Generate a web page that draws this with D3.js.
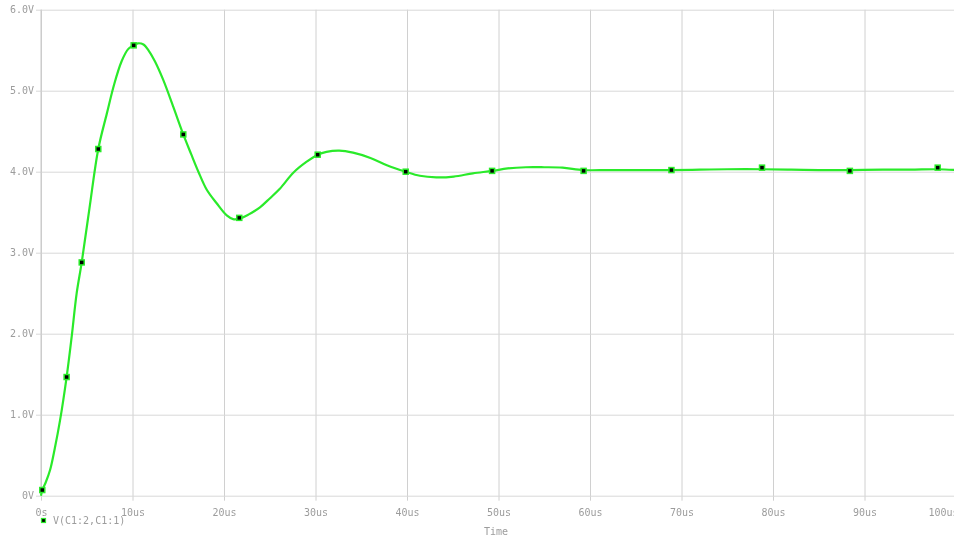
<!DOCTYPE html>
<html>
<head>
<meta charset="utf-8">
<script src="https://cdn.jsdelivr.net/npm/d3@7"></script>
<style>
  body { margin: 0; background: #fff; overflow: hidden; }
  svg { will-change: transform; }
  text { font-family: "DejaVu Sans Mono", monospace; font-size: 10px; fill: #9c9c9c; }
</style>
</head>
<body>
<div id="chart-area"></div>
<script>

// waveform (time in us, volts)
let timeUs = [0, 0.14, 0.5, 1.0, 1.5, 2.08, 2.8, 3.35, 3.9, 4.45, 5.3, 6.26, 7.2, 8.0, 8.8,
  9.5, 10.1, 10.6, 11.2, 11.8, 12.46, 13.37, 14.46, 15.55, 16.4, 17.2, 18.1, 19.2, 20.3, 21.0,
  21.67, 22.66, 23.93, 25.0, 26.1, 27.6, 29.0, 30.24, 31.2, 32.6, 34.1, 36.0, 37.8, 39.86,
  41.4, 43.2, 45.1, 47.2, 49.3, 51.0, 53.0, 55.0, 57.0, 59.3, 62, 65, 68.9, 72, 75, 78.8,
  82, 85, 88.4, 92, 95, 98.0, 100];
let volts = [0, 0.07, 0.16, 0.32, 0.58, 0.93, 1.465, 1.96, 2.5, 2.88, 3.55, 4.28, 4.72, 5.08, 5.36,
  5.51, 5.56, 5.585, 5.57, 5.49, 5.36, 5.13, 4.80, 4.46, 4.22, 4.0, 3.78, 3.61, 3.46, 3.415,
  3.42, 3.47, 3.56, 3.67, 3.79, 3.99, 4.12, 4.21, 4.245, 4.26, 4.235, 4.17, 4.08, 4.0,
  3.95, 3.93, 3.94, 3.98, 4.01, 4.04, 4.055, 4.055, 4.05, 4.02, 4.02, 4.02, 4.02, 4.025, 4.03, 4.03,
  4.025, 4.02, 4.02, 4.025, 4.025, 4.03, 4.02];

// the little square markers on the trace
let markerT = [0.14, 2.8, 4.45, 6.26, 10.13, 15.55, 21.67, 30.24, 39.86, 49.3, 59.3, 68.9, 78.8, 88.4, 98.0];
let markerV = [0.07, 1.465, 2.88, 4.28, 5.56, 4.46, 3.43, 4.21, 4.0, 4.01, 4.01, 4.02, 4.05, 4.01, 4.05];

let xTicks = [0, 10, 20, 30, 40, 50, 60, 70, 80, 90, 100];
let xTickLabels = ["0s", "10us", "20us", "30us", "40us", "50us", "60us", "70us", "80us", "90us", "100us"];
let yTicks = [0, 1, 2, 3, 4, 5, 6];
let yTickLabels = ["0V", "1.0V", "2.0V", "3.0V", "4.0V", "5.0V", "6.0V"];
let seriesName = "V(C1:2,C1:1)";
let xTitle = "Time";

let width = 954,
    height = 537;

let plotLeft = 41, plotRight = 956, plotTop = 9.7, plotBottom = 495.7;

let svg = d3.select("#chart-area").append("svg")
    .attr("width", width)
    .attr("height", height);

let x = d3.scaleLinear().domain([0, 100]).range([plotLeft, plotRight]);
let y = d3.scaleLinear().domain([0, 6]).range([plotBottom, plotTop]);

// gridlines + ticks (sticking out 5px past the axis)
let xAxis = svg.append("g")
    .attr("transform", "translate(0," + (plotBottom + 5) + ")")
    .call(d3.axisBottom(x)
      .tickValues(xTicks)
      .tickSizeInner(-(plotBottom - plotTop + 5))
      .tickSizeOuter(0)
      .tickPadding(8)
      .tickFormat(function(d, i) { return xTickLabels[i]; }));
xAxis.select(".domain").remove();
xAxis.selectAll("line").attr("stroke", "#d0d0d0");
xAxis.selectAll("text").attr("font-size", null).attr("font-family", null).attr("fill", null);
// last label is pulled in from the right edge, as in the original
xAxis.selectAll(".tick text").filter(function(d) { return d === 100; }).attr("dx", -13);

let yAxis = svg.append("g")
    .attr("transform", "translate(" + (plotLeft - 5) + ",0)")
    .call(d3.axisLeft(y)
      .tickValues(yTicks)
      .tickSizeInner(-(width - plotLeft + 5))
      .tickSizeOuter(0)
      .tickPadding(2)
      .tickFormat(function(d, i) { return yTickLabels[i]; }));
yAxis.select(".domain").remove();
yAxis.selectAll("line").attr("stroke", "#d8d8d8");
yAxis.selectAll("text").attr("font-size", null).attr("font-family", null).attr("fill", null);

// left axis line
svg.append("line")
    .attr("x1", plotLeft).attr("x2", plotLeft)
    .attr("y1", plotTop).attr("y2", plotBottom)
    .attr("stroke", "#c8c8c8");

// trace
let line = d3.line()
    .x(function(d, i) { return x(timeUs[i]); })
    .y(function(d) { return y(d); })
    .curve(d3.curveCatmullRom.alpha(0.5));

svg.append("path")
    .datum(volts)
    .attr("d", line)
    .attr("fill", "none")
    .attr("stroke", "#2aea2a")
    .attr("stroke-width", 2.2);

svg.selectAll(".marker")
    .data(markerT)
    .enter().append("rect")
    .attr("class", "marker")
    .attr("x", function(d) { return x(d) - 2.5; })
    .attr("y", function(d, i) { return y(markerV[i]) - 2.5; })
    .attr("width", 5)
    .attr("height", 5)
    .attr("fill", "#000")
    .attr("stroke", "#2aea2a")
    .attr("stroke-width", 1.5);

// legend
svg.append("rect")
    .attr("x", 41.5).attr("y", 518.5)
    .attr("width", 4).attr("height", 4)
    .attr("fill", "#000")
    .attr("stroke", "#2aea2a")
    .attr("stroke-width", 1.2);
svg.append("text")
    .attr("x", 53).attr("y", 524)
    .text(seriesName);

// x title
svg.append("text")
    .attr("x", 496).attr("y", 535)
    .attr("text-anchor", "middle")
    .text(xTitle);

</script>
</body>
</html>
